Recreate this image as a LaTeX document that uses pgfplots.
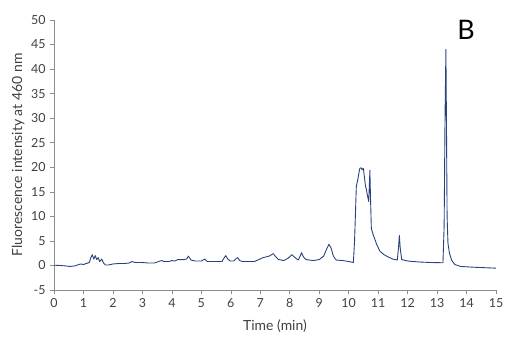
\documentclass[border=0pt]{standalone}
\usepackage{pgfplots}
\pgfplotsset{compat=1.18}
\usepackage{fontspec}
\setmainfont{Lato}
\definecolor{linec}{RGB}{40,66,124}
\definecolor{axc}{RGB}{140,140,140}
\definecolor{txc}{RGB}{64,64,64}
\begin{document}
\begin{tikzpicture}
\path[use as bounding box] (-54bp,-52bp) rectangle (458bp,290bp);
\begin{axis}[
  at={(0,0)}, anchor=south west,
  scale only axis, width=442bp, height=270bp,
  xmin=0, xmax=15, ymin=-5, ymax=50,
  xtick={0,1,...,15}, ytick={-5,0,5,...,50},
  axis x line=bottom, axis y line=left,
  axis line style={-, draw=axc, line width=0.6pt},
  tick style={draw=axc, line width=0.6pt},
  tick align=outside, major tick length=4bp,
  /pgf/number format/assume math mode=true,
  ticklabel style={font=\fontsize{12.5}{14}\selectfont, text=txc},
  xticklabel style={yshift=-1bp},
  yticklabel style={xshift=-1bp},
  label style={font=\fontsize{14}{16}\selectfont, text=txc},
  xlabel={Time (min)},
  ylabel={Fluorescence intensity at 460 nm},
  xlabel style={at={(axis description cs:0.5,-0.133)}, anchor=center},
  ylabel style={at={(axis description cs:-0.081,0.5)}, anchor=center},
  clip=false,
]
\addplot[linec, line width=0.9pt, line join=round] table {
t v
0 0.05
0.2 0.0
0.4 -0.1
0.55 -0.2
0.7 -0.1
0.8 0.1
0.9 0.3
1.0 0.2
1.1 0.4
1.2 0.6
1.25 1.6
1.3 2.2
1.35 1.3
1.4 2.0
1.45 1.2
1.5 1.6
1.55 0.8
1.62 1.3
1.68 0.5
1.75 0.1
1.85 0.1
2.0 0.3
2.2 0.4
2.4 0.4
2.55 0.5
2.65 0.8
2.75 0.6
3.0 0.6
3.2 0.5
3.4 0.5
3.55 0.8
3.65 1.0
3.75 0.8
3.9 0.8
4.0 1.0
4.1 0.9
4.2 1.2
4.4 1.2
4.5 1.3
4.56 1.9
4.65 1.1
4.8 0.9
5.0 0.9
5.12 1.3
5.2 0.8
5.5 0.8
5.7 0.8
5.78 1.6
5.83 2.0
5.9 1.3
5.98 0.9
6.1 0.9
6.18 1.4
6.23 1.6
6.3 1.0
6.4 0.8
6.8 0.8
6.95 1.2
7.1 1.6
7.3 1.9
7.44 2.4
7.52 1.8
7.62 1.2
7.8 1.0
7.95 1.5
8.07 2.2
8.18 1.6
8.29 1.1
8.36 2.0
8.4 2.6
8.46 1.8
8.55 1.2
8.8 1.0
9.0 1.2
9.15 1.9
9.25 3.3
9.33 4.3
9.4 3.6
9.48 1.9
9.58 1.1
9.8 1.0
10.0 0.8
10.16 0.6
10.2 5
10.26 16.1
10.31 17.5
10.34 18.6
10.38 19.8
10.42 19.9
10.46 19.5
10.5 19.8
10.53 18.2
10.57 16.2
10.6 15.5
10.64 14.2
10.68 13.0
10.7 16
10.72 19.4
10.74 14
10.77 7.5
10.83 6.3
10.95 4.3
11.06 2.9
11.2 2.2
11.35 1.7
11.5 1.3
11.65 1.1
11.69 3.5
11.72 6.1
11.75 3.5
11.8 1.2
12.0 0.9
12.4 0.7
12.8 0.6
13.2 0.55
13.24 8
13.27 30
13.3 44
13.32 28
13.34 10
13.37 4.5
13.42 2.5
13.5 1.0
13.6 0.2
13.8 -0.2
14.2 -0.35
14.6 -0.45
15.0 -0.55
};
\node[font=\fontsize{27}{30}\selectfont, text=black] at (axis description cs:0.932,0.963) {B};
\end{axis}
\end{tikzpicture}
\end{document}
